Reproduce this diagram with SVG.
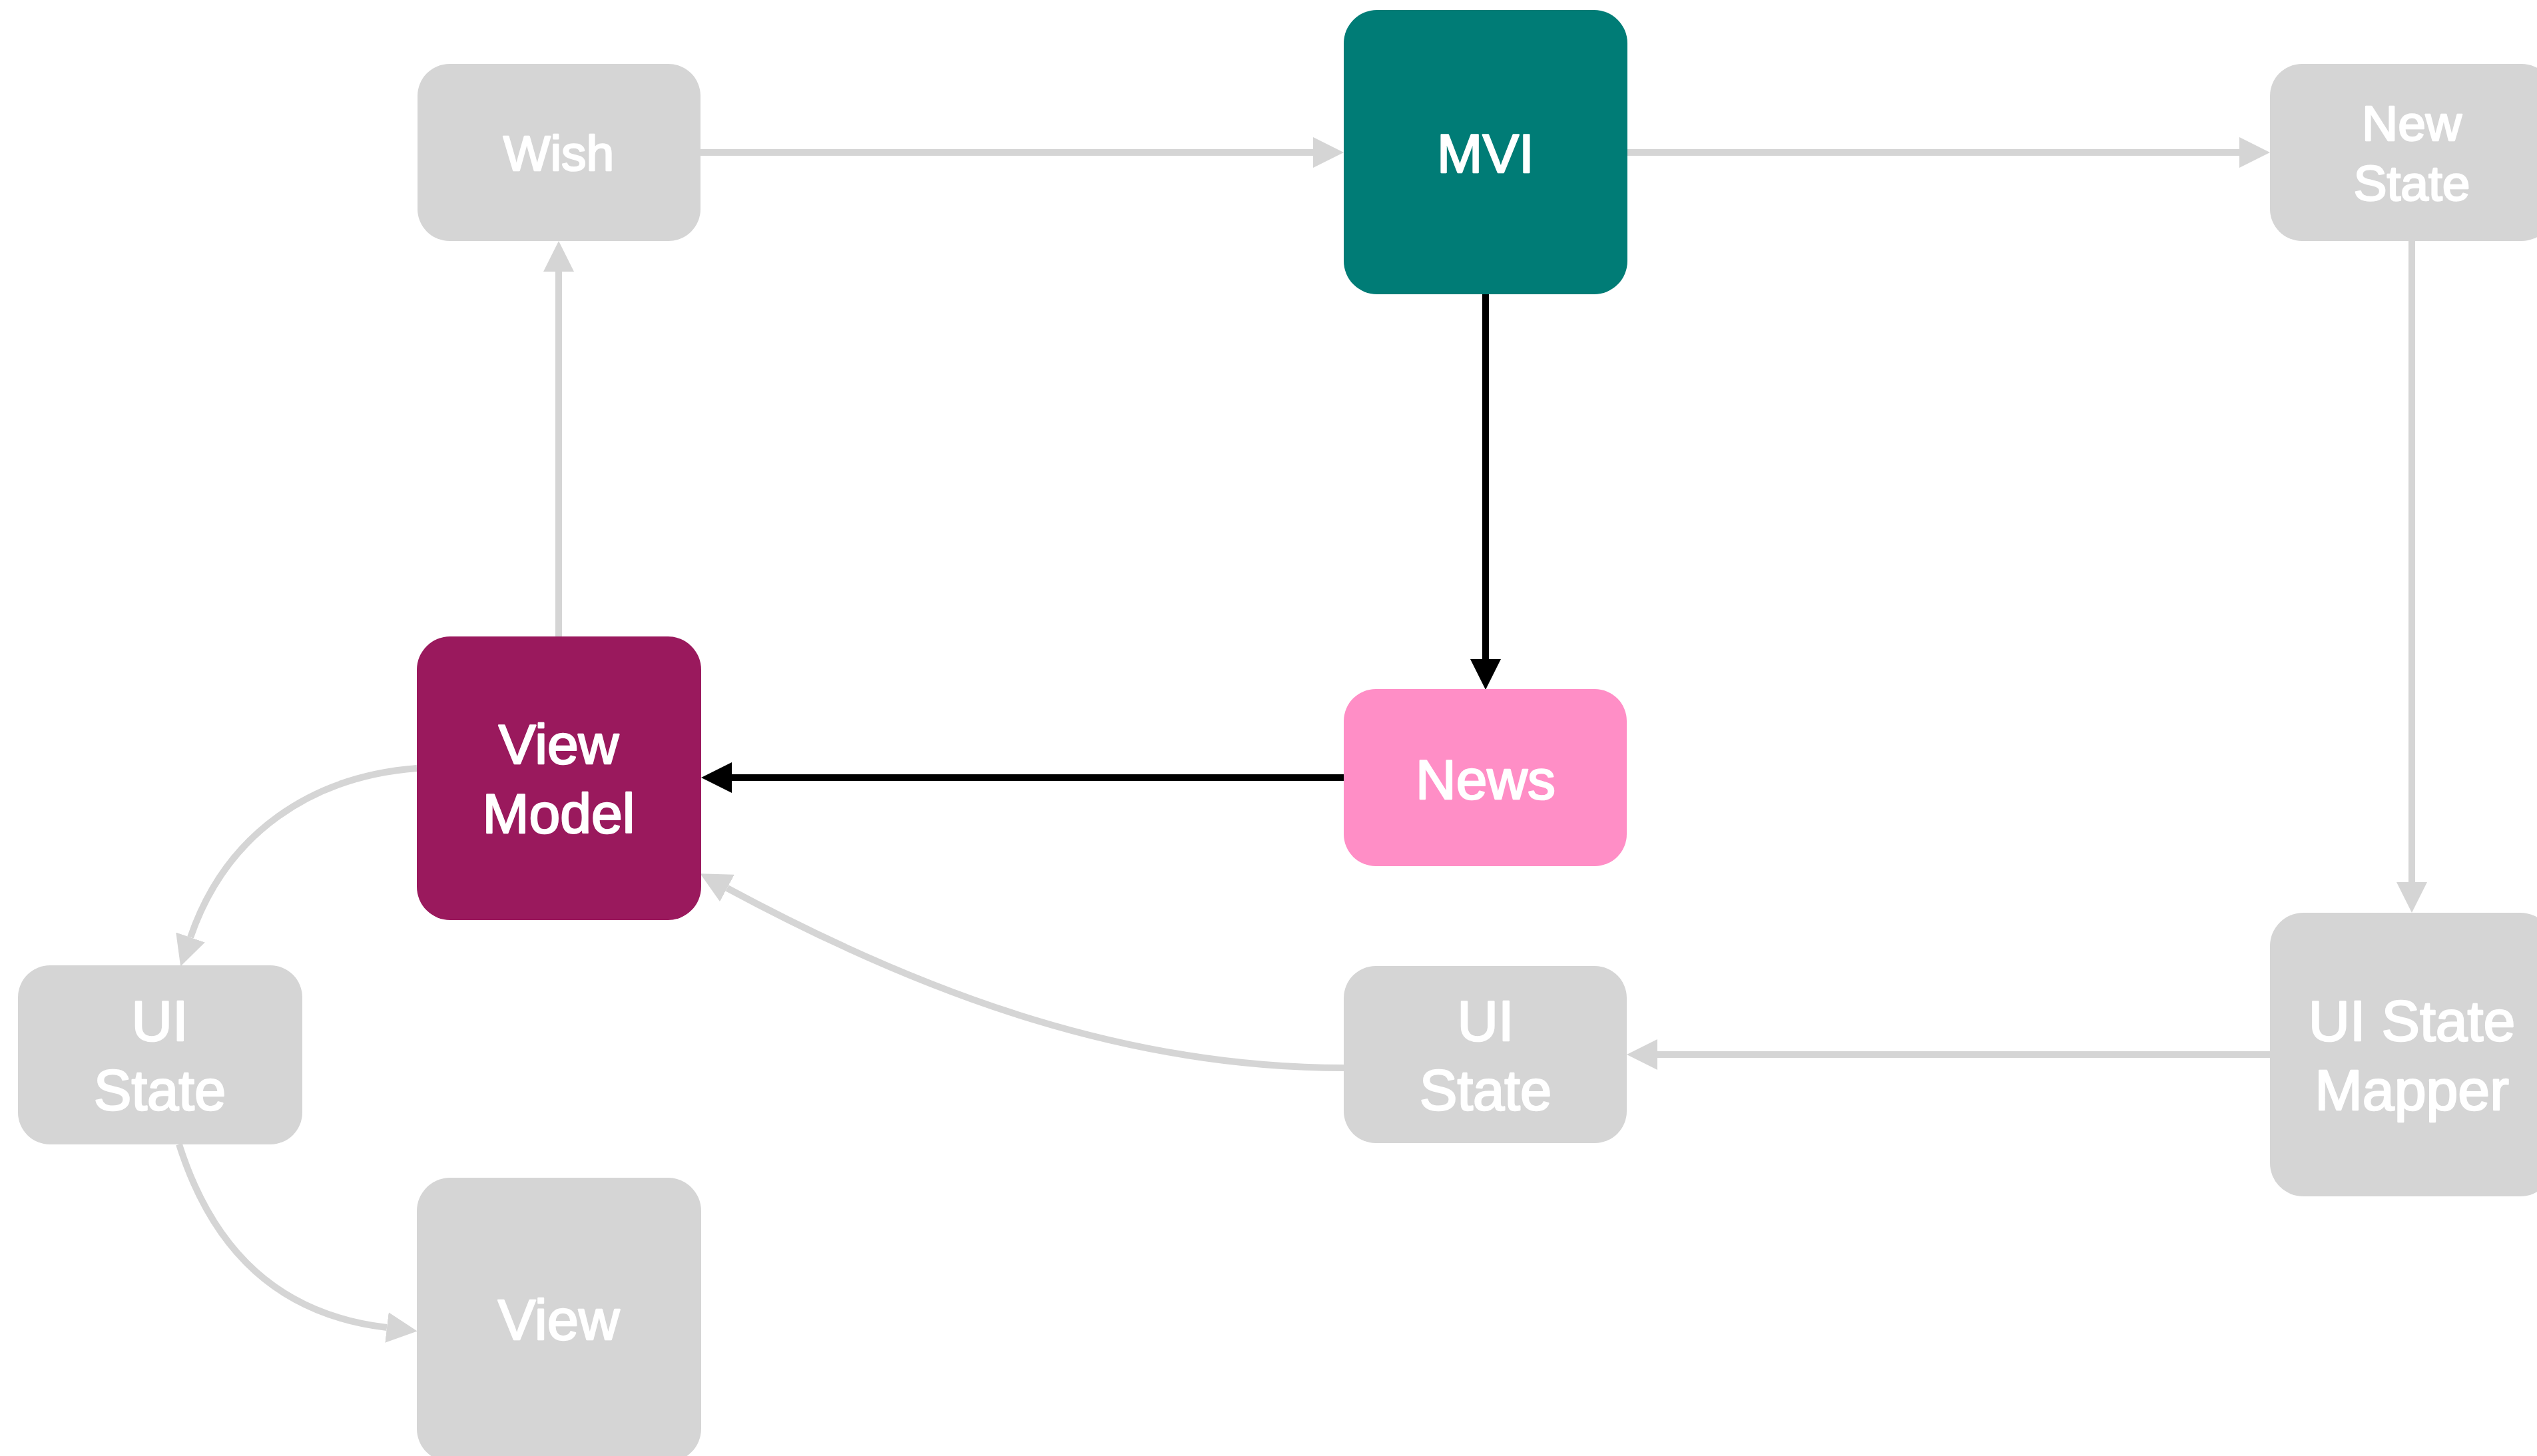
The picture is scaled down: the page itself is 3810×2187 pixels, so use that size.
<svg xmlns="http://www.w3.org/2000/svg" width="3810" height="2187" viewBox="0 0 3810 2187">
  <style>
    .box { stroke: none; }
    .gray { fill: #D5D5D5; }
    .teal { fill: #007C76; }
    .plum { fill: #9A195D; }
    .pink { fill: #FF8EC6; }
    .lbl { font-family: "Liberation Sans", Arial, sans-serif; fill: #FFFFFF; stroke: #FFFFFF; stroke-width: 2.5; stroke-linejoin: round; text-anchor: middle; }
    .edge { fill: none; stroke-width: 10; }
    .g { stroke: #D5D5D5; }
    .k { stroke: #000000; }
  </style>
  <defs>
    <marker id="ahGray" markerUnits="userSpaceOnUse" markerWidth="46" markerHeight="46" refX="0" refY="23" orient="auto">
      <path d="M0,0 L46,23 L0,46 Z" fill="#D5D5D5"/>
    </marker>
    <marker id="ahBlack" markerUnits="userSpaceOnUse" markerWidth="46" markerHeight="46" refX="0" refY="23" orient="auto">
      <path d="M0,0 L46,23 L0,46 Z" fill="#000000"/>
    </marker>
  </defs>

  <rect width="3810" height="2187" fill="#FFFFFF"/>

  <!-- connectors -->
  <g id="connectors">
    <path class="edge g" d="M1052,229 L1972,229" marker-end="url(#ahGray)"/>
    <path class="edge g" d="M2444,229 L3363,229" marker-end="url(#ahGray)"/>
    <path class="edge g" d="M3622,362 L3622,1325" marker-end="url(#ahGray)"/>
    <path class="edge g" d="M3409,1584 L2489,1584" marker-end="url(#ahGray)"/>
    <path class="edge g" d="M839,956 L839,408" marker-end="url(#ahGray)"/>
    <path class="edge k" d="M2231,442 L2231,990" marker-end="url(#ahBlack)"/>
    <path class="edge k" d="M2018,1168 L1099,1168" marker-end="url(#ahBlack)"/>
    <path class="edge g" stroke-width="9" d="M626,1154 C470,1166 340,1250 286,1408" marker-end="url(#ahGray)"/>
    <path class="edge g" stroke-width="9" d="M269,1719 C320,1880 420,1975 581,1994" marker-end="url(#ahGray)"/>
    <path class="edge g" stroke-width="9" d="M2018,1604 C1700,1604 1400,1500 1092,1334" marker-end="url(#ahGray)"/>
  </g>

  <!-- nodes -->
  <g id="wish">
    <rect class="box gray" x="627" y="96" width="425" height="266" rx="48"/>
    <text class="lbl" x="839" y="256" font-size="75">Wish</text>
  </g>
  <g id="mvi">
    <rect class="box teal" x="2018" y="15" width="426" height="427" rx="50"/>
    <text class="lbl" x="2231" y="259" font-size="82" stroke-width="3.5">MVI</text>
  </g>
  <g id="new-state">
    <rect class="box gray" x="3409" y="96" width="426" height="266" rx="48"/>
    <text class="lbl" x="3622" y="211" font-size="75">New</text>
    <text class="lbl" x="3622" y="301" font-size="75">State</text>
  </g>
  <g id="view-model">
    <rect class="box plum" x="626" y="956" width="427" height="426" rx="50"/>
    <text class="lbl" x="839" y="1147" font-size="84">View</text>
    <text class="lbl" x="839" y="1251" font-size="84">Model</text>
  </g>
  <g id="news">
    <rect class="box pink" x="2018" y="1035" width="425" height="266" rx="48"/>
    <text class="lbl" x="2231" y="1200" font-size="84">News</text>
  </g>
  <g id="ui-state-left">
    <rect class="box gray" x="27" y="1450" width="427" height="269" rx="48"/>
    <text class="lbl" x="240" y="1563" font-size="85">UI</text>
    <text class="lbl" x="240" y="1667" font-size="85">State</text>
  </g>
  <g id="ui-state-mid">
    <rect class="box gray" x="2018" y="1451" width="425" height="266" rx="48"/>
    <text class="lbl" x="2231" y="1563" font-size="85">UI</text>
    <text class="lbl" x="2231" y="1667" font-size="85">State</text>
  </g>
  <g id="ui-state-mapper">
    <rect class="box gray" x="3409" y="1371" width="426" height="426" rx="50"/>
    <text class="lbl" x="3622" y="1563" font-size="86">UI State</text>
    <text class="lbl" x="3622" y="1667" font-size="86">Mapper</text>
  </g>
  <g id="view">
    <rect class="box gray" x="626" y="1769" width="427" height="427" rx="50"/>
    <text class="lbl" x="839" y="2012" font-size="85">View</text>
  </g>
</svg>
